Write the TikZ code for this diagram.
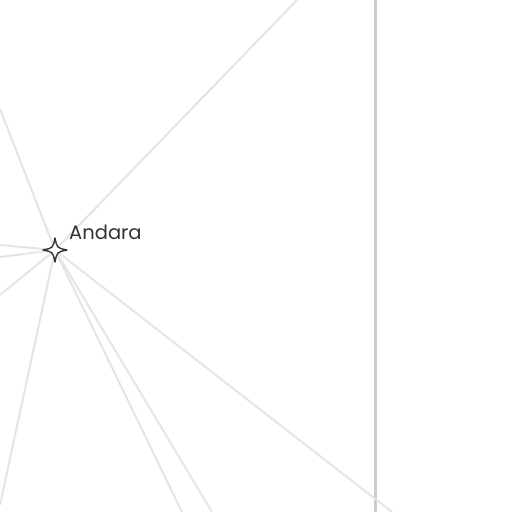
\documentclass[tikz,border=0pt]{standalone}
\usepackage{fontspec}
\setmainfont{Poppins}
\begin{document}
\begin{tikzpicture}[x=1pt,y=-1pt,
  ray/.style={draw=black!10, line width=2pt},
  border/.style={draw=black!20, line width=3pt},
  starmark/.style={draw=black!80, fill=white, line width=1.4pt, line join=round},
  lbl/.style={font=\fontsize{19.5}{21}\selectfont, text=black!80, inner sep=0pt}]
\useasboundingbox (0,0) rectangle (512,512);
\fill[white] (0,0) rectangle (512,512);
\coordinate (c) at (55,250);
\coordinate (e1) at (297,0);
\coordinate (e2) at (0,109);
\coordinate (e3) at (0,245);
\coordinate (e4) at (0,257);
\coordinate (e5) at (0,295);
\coordinate (e6) at (0,505);
\coordinate (e7) at (182,512);
\coordinate (e8) at (212,512);
\coordinate (e9) at (392,512);
\coordinate (vt) at (375,0);
\coordinate (vb) at (375,512);
\draw[border] (vt) -- (vb);
\foreach \e in {e1,e2,e3,e4,e5,e6,e7,e8,e9} \draw[ray] (c) -- (\e);
\draw[starmark] (c) ++(0,-12) .. controls +(2,10) .. ++(12,12)
  .. controls +(-10,2) .. ++(-12,12)
  .. controls +(-2,-10) .. ++(-12,-12)
  .. controls +(10,-2) .. cycle;
\node[lbl, anchor=base west] (andara) at (69,239) {Andara};
\end{tikzpicture}
\end{document}
